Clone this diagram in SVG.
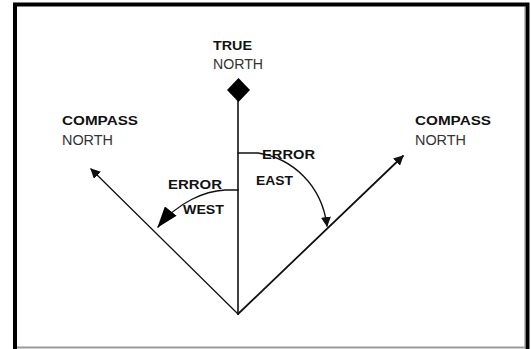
<svg xmlns="http://www.w3.org/2000/svg" width="531" height="349" viewBox="0 0 531 349">
<style>
.b{font-family:"Liberation Sans",Arial,sans-serif;font-weight:bold;font-size:13px;fill:#111}
.r{font-family:"Liberation Sans",Arial,sans-serif;font-size:14px;fill:#333}
.ln{fill:none;stroke:#111;stroke-linecap:round}
</style>
<defs>
<marker id="ah" viewBox="0 0 10 10" refX="9" refY="5" markerWidth="10" markerHeight="10" markerUnits="userSpaceOnUse" orient="auto">
<path d="M0,0 L10,5 L0,10 Z" fill="#111"/>
</marker>
<marker id="ahBig" viewBox="0 0 20 14" refX="19" refY="7" markerWidth="22" markerHeight="15" markerUnits="userSpaceOnUse" orient="auto">
<path d="M0,0 L20,7 L0,14 Z" fill="#000"/>
</marker>
</defs>
<rect x="0" y="0" width="531" height="349" fill="#fff"/>
<g id="frame">
<path d="M15,349 V4.5 H527.5 V349" fill="none" stroke="#000" stroke-width="4"/>
<line x1="17" y1="347.5" x2="525" y2="347.5" stroke="#999" stroke-width="2"/>
<line x1="524.5" y1="7" x2="524.5" y2="347" stroke="#bbb" stroke-width="1"/>
</g>
<g id="connectors">
<line class="ln" x1="238" y1="314" x2="238" y2="98" stroke-width="1.6"/>
<line class="ln" x1="238" y1="314" x2="91" y2="169" stroke="#444" stroke-width="1.3" marker-end="url(#ah)"/>
<line class="ln" x1="238" y1="314" x2="403" y2="156" stroke-width="1.8" marker-end="url(#ah)"/>
<path class="ln" d="M238,153 H258 C292,158 322,185 327,226" stroke-width="1.4" marker-end="url(#ah)"/>
<path class="ln" d="M238,190 H225 C205,191 178,202 158,227" stroke-width="1.3" marker-end="url(#ahBig)"/>
</g>
<g id="true-north">
<path d="M238.5,78 L250,90 L238.5,102 L227,90 Z" fill="#000"/>
<text class="b" x="213" y="50" textLength="39" lengthAdjust="spacingAndGlyphs">TRUE</text>
<text class="r" x="213" y="69" textLength="50" lengthAdjust="spacingAndGlyphs">NORTH</text>
</g>
<g id="compass-north-left">
<text class="b" x="62" y="125" textLength="76" lengthAdjust="spacingAndGlyphs">COMPASS</text>
<text class="r" x="62" y="145" textLength="51" lengthAdjust="spacingAndGlyphs">NORTH</text>
</g>
<g id="compass-north-right">
<text class="b" x="415" y="125" textLength="76" lengthAdjust="spacingAndGlyphs">COMPASS</text>
<text class="r" x="415" y="145" textLength="51" lengthAdjust="spacingAndGlyphs">NORTH</text>
</g>
<g id="error-east">
<text class="b" x="262" y="159" textLength="53" lengthAdjust="spacingAndGlyphs">ERROR</text>
<text class="b" x="256" y="185" textLength="37" lengthAdjust="spacingAndGlyphs">EAST</text>
</g>
<g id="error-west">
<text class="b" x="168" y="189" textLength="54" lengthAdjust="spacingAndGlyphs">ERROR</text>
<text class="b" x="183" y="214" textLength="41" lengthAdjust="spacingAndGlyphs">WEST</text>
</g>
</svg>
